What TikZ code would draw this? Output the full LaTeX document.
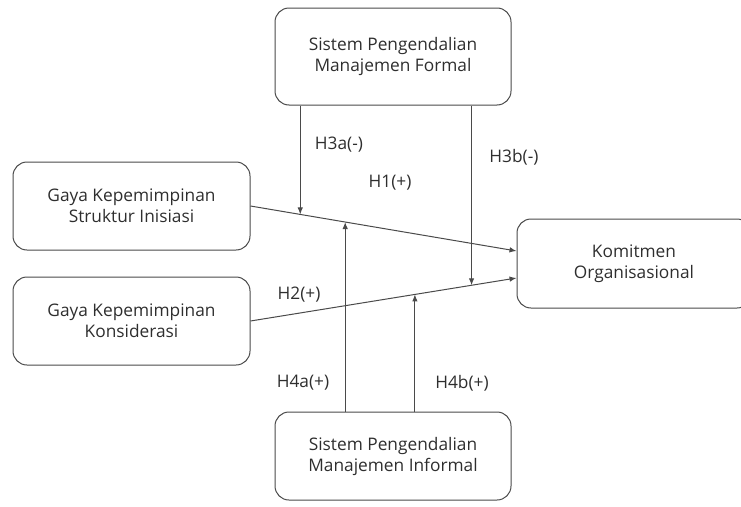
\documentclass[tikz,border=0pt]{standalone}
\usepackage{fontspec}
\setmainfont{Open Sans}
\usepackage{tikz}
\usetikzlibrary{calc,arrows.meta}

\definecolor{garis}{HTML}{4A4A4A}
\definecolor{teks}{HTML}{2E2E2E}

\begin{document}
\begin{tikzpicture}[x=1pt,y=-1pt,
  kotak/.style={draw=garis,line width=1pt,rounded corners=14pt,align=center,
    text=teks,font=\fontsize{17.3}{21}\selectfont,inner sep=0pt},
  panah/.style={draw=garis,line width=1pt,-{Latex[length=7pt,width=5.5pt]}},
  lbl/.style={text=teks,font=\fontsize{17.3}{20}\selectfont,inner sep=0pt}]
\useasboundingbox (0,0) rectangle (741,506);

%kotak variabel
\node[kotak,minimum width=236pt,minimum height=97pt] (spmf) at (393,56.5) {Sistem Pengendalian\\Manajemen Formal};
\node[kotak,minimum width=237pt,minimum height=88pt] (gksi) at (131.5,206) {Gaya Kepemimpinan\\Struktur Inisiasi};
\node[kotak,minimum width=237pt,minimum height=88pt] (gkk) at (131.5,321) {Gaya Kepemimpinan\\Konsiderasi};
\node[kotak,minimum width=234pt,minimum height=89pt] (ko) at (634,263.5) {Komitmen\\Organisasional};
\node[kotak,minimum width=236pt,minimum height=88pt] (spmi) at (393,456) {Sistem Pengendalian\\Manajemen Informal};

%hubungan langsung
\coordinate (ko1) at ($(ko.west)+(0,-12.5)$);
\coordinate (ko2) at ($(ko.west)+(0,14.5)$);
\draw[panah] (gksi.east) -- (ko1);
\draw[panah] (gkk.east) -- (ko2);

%moderasi
\coordinate (m3a) at ($(gksi.east)!0.187!(ko1)$);
\coordinate (m4a) at ($(gksi.east)!0.356!(ko1)$);
\coordinate (m3b) at ($(gkk.east)!0.831!(ko2)$);
\coordinate (m4b) at ($(gkk.east)!0.618!(ko2)$);
\draw[panah] (spmf.south -| m3a) -- (m3a);
\draw[panah] (spmf.south -| m3b) -- (m3b);
\draw[panah] (spmi.north -| m4a) -- (m4a);
\draw[panah] (spmi.north -| m4b) -- (m4b);

\node[lbl] (h1) at (390,183) {H1(+)};
\node[lbl] (h2) at (299,295) {H2(+)};
\node[lbl] (h3a) at (339,145) {H3a(-)};
\node[lbl] (h3b) at (514,157) {H3b(-)};
\node[lbl] (h4a) at (303,383) {H4a(+)};
\node[lbl] (h4b) at (462,383) {H4b(+)};

\end{tikzpicture}
\end{document}
